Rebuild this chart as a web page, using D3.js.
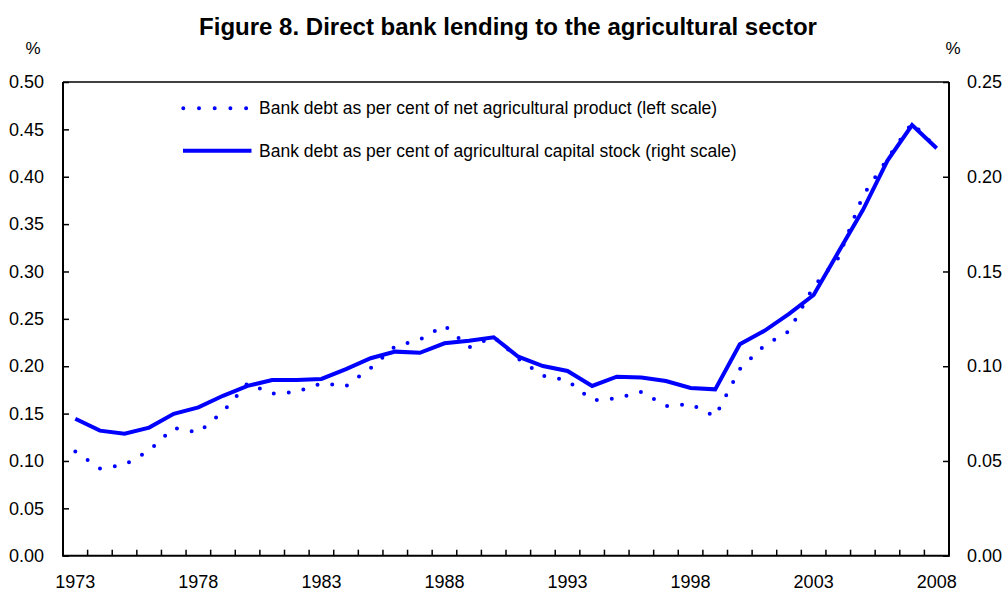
<!DOCTYPE html>
<html>
<head>
<meta charset="utf-8">
<script src="https://cdn.jsdelivr.net/npm/d3@7"></script>
<style>
  html, body { margin: 0; padding: 0; background: #fff; }
  svg { display: block; font-family: "Liberation Sans", Arial, sans-serif; }
</style>
</head>
<body>
<svg id="chart" width="1002" height="592"></svg>
<script>
// Years on the category axis
const years = d3.range(1973, 2009);

// Bank debt as per cent of net agricultural product (left scale)
const debtToProduct = [
  0.110, 0.092, 0.096, 0.111, 0.135, 0.130, 0.152, 0.182, 0.171, 0.173,
  0.182, 0.179, 0.198, 0.221, 0.228, 0.243, 0.220, 0.231, 0.208, 0.190,
  0.185, 0.164, 0.166, 0.173, 0.158, 0.160, 0.147, 0.197, 0.222, 0.237,
  0.284, 0.314, 0.380, 0.419, 0.457, 0.430
];

// Bank debt as per cent of agricultural capital stock (right scale)
const debtToCapital = [
  0.0723, 0.0660, 0.0644, 0.0676, 0.0749, 0.0783, 0.0844, 0.0896, 0.0927, 0.0927,
  0.0933, 0.0985, 0.1042, 0.1077, 0.1071, 0.1121, 0.1135, 0.1153, 0.1050, 0.1001,
  0.0975, 0.0896, 0.0945, 0.0941, 0.0922, 0.0885, 0.0878, 0.1116, 0.1187, 0.1276,
  0.1376, 0.1601, 0.1824, 0.2085, 0.2273, 0.2150
];

const leftTicks = [0, 0.05, 0.10, 0.15, 0.20, 0.25, 0.30, 0.35, 0.40, 0.45, 0.50];
const rightTicks = [0, 0.05, 0.10, 0.15, 0.20, 0.25];
const labelYears = [1973, 1978, 1983, 1988, 1993, 1998, 2003, 2008];

const titleText = "Figure 8. Direct bank lending to the agricultural sector";
const legendLabels = [
  "Bank debt as per cent of net agricultural product (left scale)",
  "Bank debt as per cent of agricultural capital stock (right scale)"
];

const blue = "#0000ff";
const margin = { left: 63, right: 53, top: 82, bottom: 36.3 };
const W = 1002, H = 592;
const innerW = W - margin.left - margin.right;
const innerH = H - margin.top - margin.bottom;

const svg = d3.select("#chart");

// Title, sized to span 618px
const title = svg.append("text")
  .attr("x", 508).attr("y", 35)
  .attr("text-anchor", "middle")
  .attr("font-weight", "bold")
  .attr("font-size", 20)
  .text(titleText);
const tLen = title.node().getComputedTextLength();
title.attr("font-size", 20 * 618 / tLen);

// Unit markers above each value axis
svg.append("text").attr("x", 33).attr("y", 54).attr("text-anchor", "middle")
  .attr("font-size", 17).text("%");
svg.append("text").attr("x", 953).attr("y", 54).attr("text-anchor", "middle")
  .attr("font-size", 17).text("%");

const g = svg.append("g").attr("transform", `translate(${margin.left},${margin.top})`);

const x = d3.scaleBand().domain(years).range([0, innerW]).padding(0);
const yL = d3.scaleLinear().domain([0, 0.5]).range([innerH, 0]);
const yR = d3.scaleLinear().domain([0, 0.25]).range([innerH, 0]);

const cx = yr => x(yr) + x.bandwidth() / 2;

// Frame: top border thin
g.append("line")
  .attr("x1", 0).attr("x2", innerW).attr("y1", 0).attr("y2", 0)
  .attr("stroke", "#000").attr("stroke-width", 1.3);

// Left axis, ticks pointing into the plot
const leftAxis = g.append("g")
  .call(d3.axisLeft(yL).tickValues(leftTicks).tickSize(-6).tickPadding(19)
    .tickFormat(d3.format(".2f")));
leftAxis.select(".domain").attr("stroke-width", 2).attr("d", `M0,${innerH}V0`);
leftAxis.selectAll(".tick line").attr("stroke-width", 1.5);
leftAxis.selectAll(".tick text").attr("font-size", 18).attr("font-family", "Liberation Sans, Arial, sans-serif").attr("fill", "#000");

// Right axis
const rightAxis = g.append("g").attr("transform", `translate(${innerW},0)`)
  .call(d3.axisRight(yR).tickValues(rightTicks).tickSize(-6).tickPadding(18)
    .tickFormat(d3.format(".2f")));
rightAxis.select(".domain").attr("stroke-width", 2).attr("d", `M0,${innerH}V0`);
rightAxis.selectAll(".tick line").attr("stroke-width", 1.5);
rightAxis.selectAll(".tick text").attr("font-size", 18).attr("font-family", "Liberation Sans, Arial, sans-serif").attr("fill", "#000");

// Bottom axis: ticks on band boundaries, labels every five years
const bottom = g.append("g").attr("transform", `translate(0,${innerH})`);
bottom.append("line")
  .attr("x1", -1).attr("x2", innerW + 1)
  .attr("stroke", "#000").attr("stroke-width", 2);
bottom.selectAll("line.yt")
  .data(years.slice(1))
  .join("line").attr("class", "yt")
  .attr("x1", d => x(d)).attr("x2", d => x(d))
  .attr("y1", 0).attr("y2", -6)
  .attr("stroke", "#000").attr("stroke-width", 1.5);
bottom.selectAll("text.yl")
  .data(labelYears)
  .join("text").attr("class", "yl")
  .attr("x", d => cx(d)).attr("y", 32)
  .attr("text-anchor", "middle")
  .attr("font-size", 18)
  .text(d => d);

// Series lines
const lineL = d3.line().x((d, i) => cx(years[i])).y(d => yL(d));
const lineR = d3.line().x((d, i) => cx(years[i])).y(d => yR(d));

g.append("path")
  .datum(debtToProduct)
  .attr("d", lineL)
  .attr("fill", "none")
  .attr("stroke", blue)
  .attr("stroke-width", 4)
  .attr("stroke-linecap", "round")
  .attr("stroke-dasharray", "0 15");

g.append("path")
  .datum(debtToCapital)
  .attr("d", lineR)
  .attr("fill", "none")
  .attr("stroke", blue)
  .attr("stroke-width", 4)
  .attr("stroke-linejoin", "miter");

// Legend
const legend = svg.append("g");
legend.append("line")
  .attr("x1", 183.3).attr("x2", 247).attr("y1", 108.3).attr("y2", 108.3)
  .attr("stroke", blue).attr("stroke-width", 4)
  .attr("stroke-linecap", "round").attr("stroke-dasharray", "0 15.7");
legend.append("line")
  .attr("x1", 183).attr("x2", 251.5).attr("y1", 150.7).attr("y2", 150.7)
  .attr("stroke", blue).attr("stroke-width", 4);
legend.selectAll("text.lg")
  .data(legendLabels)
  .join("text").attr("class", "lg")
  .attr("x", 259)
  .attr("y", (d, i) => 114 + i * 43)
  .attr("font-size", 17.5)
  .text(d => d);
</script>
</body>
</html>
